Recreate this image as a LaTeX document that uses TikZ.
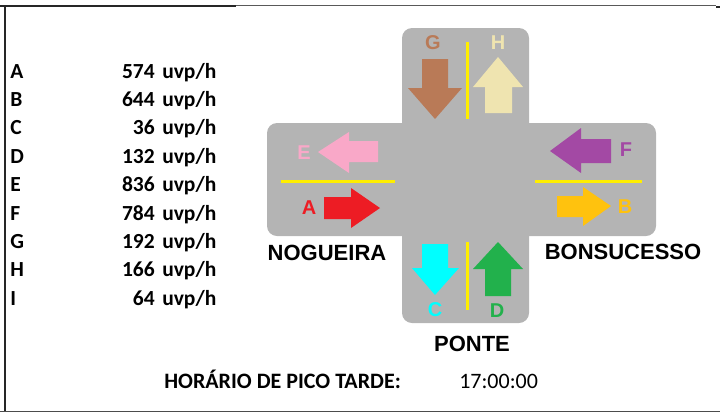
\documentclass[tikz,border=0pt]{standalone}
\usepackage{fontspec}
\setmainfont{Carlito}
\newfontfamily\arialfont{Liberation Sans}
\usepackage{tikz}
\definecolor{roadgray}{RGB}{180,180,180}
\definecolor{laneyellow}{RGB}{255,238,0}
\definecolor{flowA}{RGB}{237,28,36}
\definecolor{flowB}{RGB}{255,194,14}
\definecolor{flowC}{RGB}{0,255,255}
\definecolor{flowD}{RGB}{34,177,76}
\definecolor{flowE}{RGB}{249,168,200}
\definecolor{flowF}{RGB}{163,73,164}
\definecolor{flowG}{RGB}{185,122,87}
\definecolor{flowH}{RGB}{239,228,176}
\tikzset{every picture/.style={line width=0.5pt}}
\tikzset{
  listtxt/.style={inner sep=0pt,font=\bfseries\fontsize{21.5}{25}\selectfont},
  flowlbl/.style={inner sep=0pt,font=\arialfont\bfseries\fontsize{20}{24}\selectfont},
  placelbl/.style={inner sep=0pt,font=\arialfont\bfseries\fontsize{22}{26}\selectfont},
  lane/.style={laneyellow,line width=3pt}
}

\begin{document}
\begin{tikzpicture}[x=1pt,y=-1pt]
\useasboundingbox (0,0) rectangle (720,413);
% frame
\draw[black!85,line width=2.4pt] (0,6) -- (236,6);
\draw[black!65,line width=1.2pt] (236,5.3) -- (716,5.3);
\draw[black!85,line width=2pt] (716,6.5) -- (720,6.5);
\draw[black!85,line width=2pt] (5,5) -- (5,411.5);
\draw[black!70,line width=1.4pt] (0,411.5) -- (720,411.5);
% volumes
\foreach \k/\v [count=\i from 0] in {A/574,B/644,C/36,D/132,E/836,F/784,G/192,H/166,I/64}{
  \node[listtxt,anchor=base west] (lst\k) at (10,78+28.4*\i) {\k};
  \node[listtxt,anchor=base east] (val\k) at (155,78+28.4*\i) {\v};
  \node[listtxt,anchor=base west] (unit\k) at (162,78+28.4*\i) {uvp/h};
}
% roads
\fill[roadgray,rounded corners=10pt] (267,123) rectangle (656,236);
\fill[roadgray,rounded corners=10pt] (402,28) rectangle (529,323);
\draw[lane] (281,181) -- (395,181);
\draw[lane] (535,181) -- (642,181);
\draw[lane] (467,42) -- (467,119);
\draw[lane] (467,242) -- (467,310);
% movements
\fill[flowG] (422,59) -- (448,59) -- (448,88) -- (462,88) -- (435,119) -- (408,88) -- (422,88) -- cycle;
\fill[flowH] (485,113) -- (512,113) -- (512,87) -- (523,87) -- (498,57) -- (473,87) -- (485,87) -- cycle;
\fill[flowE] (378,141) -- (378,162) -- (349,162) -- (349,173) -- (318,152) -- (349,132) -- (349,141) -- cycle;
\fill[flowA] (324,197) -- (324,219) -- (351,219) -- (351,228) -- (380,208) -- (351,188) -- (351,197) -- cycle;
\fill[flowF] (611,139) -- (611,163) -- (581,163) -- (581,173) -- (550,151) -- (581,128) -- (581,139) -- cycle;
\fill[flowB] (557,196) -- (557,217) -- (583,217) -- (583,226) -- (611,206) -- (583,187) -- (583,196) -- cycle;
\fill[flowC] (422,244) -- (448,244) -- (448,268) -- (459,268) -- (435,295) -- (412,268) -- (422,268) -- cycle;
\fill[flowD] (485,296) -- (511,296) -- (511,269) -- (523,269) -- (498,242) -- (473,269) -- (485,269) -- cycle;
\node[flowlbl,flowG] (lblG) at (433,43) {G};
\node[flowlbl,flowH] (lblH) at (498,43) {H};
\node[flowlbl,flowE] (lblE) at (304,153) {E};
\node[flowlbl,flowA] (lblA) at (309,208) {A};
\node[flowlbl,flowF] (lblF) at (626,150) {F};
\node[flowlbl,flowB] (lblB) at (625,207) {B};
\node[flowlbl,flowC] (lblC) at (435,310) {C};
\node[flowlbl,flowD] (lblD) at (497,311) {D};
% approaches
\node[placelbl] (nogueira) at (327,253) {NOGUEIRA};
\node[placelbl] (bonsucesso) at (623,252) {BONSUCESSO};
\node[placelbl] (ponte) at (472,344) {PONTE};
\node[listtxt,anchor=base west,font=\bfseries\fontsize{22}{26}\selectfont] (horario) at (164,388) {HORÁRIO DE PICO TARDE:};
\node[listtxt,anchor=base west,font=\mdseries\fontsize{22}{26}\selectfont] (hora) at (459,388) {17:00:00};
\end{tikzpicture}
\end{document}
